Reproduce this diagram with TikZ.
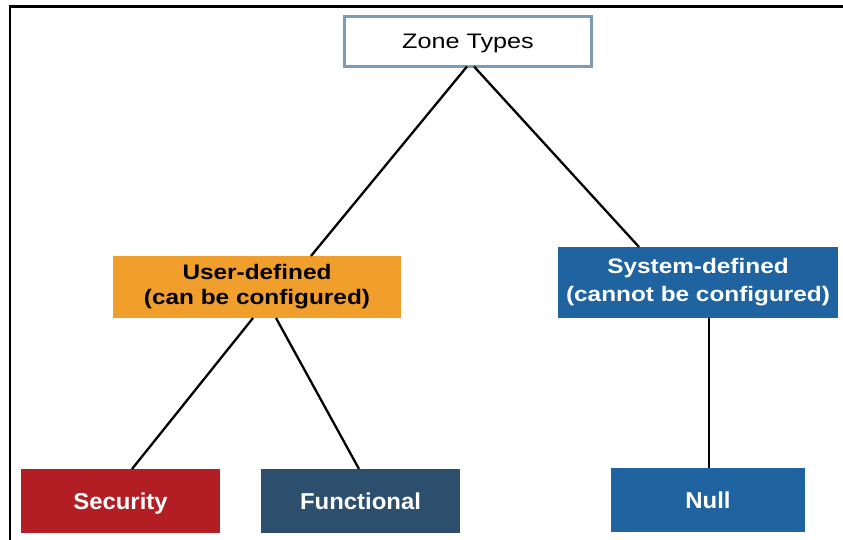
\documentclass[tikz,border=0pt]{standalone}
\usepackage{fontspec}
\setmainfont{Liberation Sans}
\newfontfamily\zonefont{Liberation Sans}[FakeStretch=1.2]
\newfontfamily\midfont{Liberation Sans}[FakeStretch=1.16]
\newfontfamily\lowfont{Liberation Sans}[FakeStretch=1.04]
\usetikzlibrary{calc}
\definecolor{zoneedge}{HTML}{7E9BB4}
\definecolor{userorange}{HTML}{F09E2C}
\definecolor{sysblue}{HTML}{1F63A1}
\definecolor{secred}{HTML}{B21E24}
\definecolor{funcslate}{HTML}{2D4F6E}
\tikzset{
  box/.style={align=center, inner sep=0pt, outer sep=0pt, draw=none},
  topbox/.style={box, font=\zonefont\fontsize{21}{24}\selectfont, text depth=0pt},
  midbox/.style={box, font=\midfont\bfseries\fontsize{21}{#1}\selectfont},
  lowbox/.style={box, font=\lowfont\bfseries\fontsize{23}{26}\selectfont,
                 text=white, text depth=0pt},
  link/.style={line width=2.3pt, black}
}
\begin{document}
\begin{tikzpicture}[x=1pt,y=-1pt]
  \useasboundingbox (0,0) rectangle (843,540);
  % frame
  \draw[line width=2.6pt, line cap=rect] (10,540) -- (10,6.5) -- (843,6.5);
  % nodes
  \node[topbox, draw=zoneedge, line width=3pt, fill=white,
        minimum width=247pt, minimum height=50pt] (zt) at (468,41.5) {Zone Types};
  \node[midbox=25, text=black, fill=userorange,
        minimum width=288pt, minimum height=62pt] (ud) at (257,287) {User-defined\\(can be configured)};
  \node[midbox=28, text=white, fill=sysblue,
        minimum width=280pt, minimum height=71pt] (sd) at (698,282.5) {System-defined\\(cannot be configured)};
  \node[lowbox, fill=secred,
        minimum width=199pt, minimum height=64pt] (sec) at (120.5,501) {Security};
  \node[lowbox, fill=funcslate,
        minimum width=199pt, minimum height=64pt] (fun) at (360.5,501) {Functional};
  \node[lowbox, fill=sysblue,
        minimum width=194pt, minimum height=64pt] (nul) at (708,500) {Null};
  % connectors
  \draw[link] ([xshift=-1pt]zt.south) -- ([xshift=54pt]ud.north);
  \draw[link] ([xshift=6pt]zt.south) -- ([xshift=-59pt]sd.north);
  \draw[link] ([xshift=-4pt]ud.south) -- ([xshift=11.5pt]sec.north);
  \draw[link] ([xshift=19pt]ud.south) -- ([xshift=-1.5pt]fun.north);
  \draw[link] ([xshift=11pt]sd.south) -- ([xshift=1pt]nul.north);
\end{tikzpicture}
\end{document}
